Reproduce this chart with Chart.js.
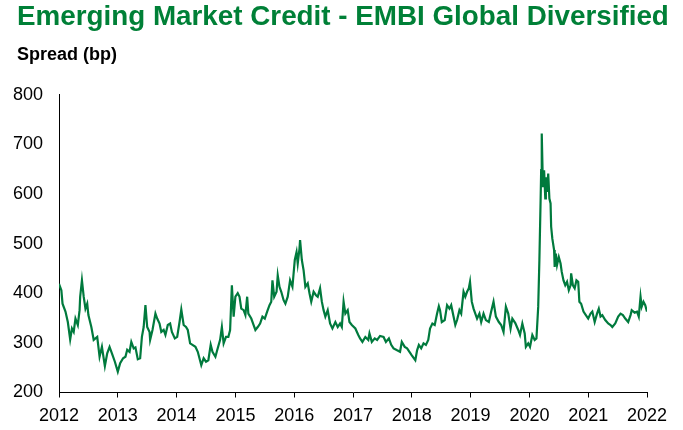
<!DOCTYPE html>
<html>
<head>
<meta charset="utf-8">
<script src="https://cdn.jsdelivr.net/npm/chart.js@4/dist/chart.umd.min.js"></script>
<style>
  html, body { margin: 0; padding: 0; background: #fff; }
  #chart { display: block; }
</style>
</head>
<body>
<canvas id="chart" width="683" height="430"></canvas>
<script>
// EMBI Global Diversified spread (decimal years)
const years = [
  2012.00, 2012.04, 2012.06, 2012.11, 2012.15, 2012.19, 2012.22, 2012.25, 2012.28, 2012.32,
  2012.35, 2012.36, 2012.39, 2012.42, 2012.45, 2012.48, 2012.50, 2012.55, 2012.59, 2012.65,
  2012.69, 2012.73, 2012.78, 2012.82, 2012.86, 2012.90, 2012.95, 2013.00, 2013.04, 2013.09,
  2013.13, 2013.16, 2013.20, 2013.23, 2013.27, 2013.30, 2013.34, 2013.38, 2013.41, 2013.44,
  2013.47, 2013.50, 2013.54, 2013.55, 2013.59, 2013.64, 2013.67, 2013.71, 2013.74, 2013.78,
  2013.81, 2013.85, 2013.89, 2013.92, 2013.97, 2014.01, 2014.05, 2014.08, 2014.12, 2014.16,
  2014.19, 2014.23, 2014.27, 2014.32, 2014.36, 2014.42, 2014.46, 2014.50, 2014.54, 2014.58,
  2014.61, 2014.66, 2014.69, 2014.74, 2014.77, 2014.80, 2014.84, 2014.88, 2014.91, 2014.94,
  2014.97, 2015.00, 2015.04, 2015.07, 2015.10, 2015.14, 2015.17, 2015.20, 2015.22, 2015.27,
  2015.31, 2015.34, 2015.38, 2015.42, 2015.46, 2015.50, 2015.54, 2015.58, 2015.61, 2015.63,
  2015.66, 2015.70, 2015.72, 2015.75, 2015.78, 2015.82, 2015.85, 2015.89, 2015.93, 2015.97,
  2016.01, 2016.04, 2016.06, 2016.09, 2016.10, 2016.13, 2016.16, 2016.19, 2016.23, 2016.26,
  2016.29, 2016.33, 2016.37, 2016.40, 2016.44, 2016.47, 2016.50, 2016.53, 2016.57, 2016.61,
  2016.65, 2016.70, 2016.74, 2016.78, 2016.81, 2016.84, 2016.87, 2016.91, 2016.94, 2016.98,
  2017.04, 2017.09, 2017.12, 2017.16, 2017.21, 2017.26, 2017.28, 2017.32, 2017.37, 2017.41,
  2017.46, 2017.52, 2017.56, 2017.61, 2017.65, 2017.69, 2017.75, 2017.80, 2017.83, 2017.88,
  2017.92, 2017.96, 2018.00, 2018.06, 2018.09, 2018.12, 2018.16, 2018.20, 2018.24, 2018.28,
  2018.31, 2018.35, 2018.39, 2018.43, 2018.46, 2018.48, 2018.51, 2018.56, 2018.60, 2018.64,
  2018.67, 2018.71, 2018.74, 2018.77, 2018.81, 2018.84, 2018.88, 2018.91, 2018.94, 2018.97,
  2018.99, 2019.02, 2019.05, 2019.08, 2019.11, 2019.15, 2019.18, 2019.22, 2019.26, 2019.31,
  2019.35, 2019.39, 2019.43, 2019.48, 2019.52, 2019.56, 2019.60, 2019.64, 2019.68, 2019.71,
  2019.76, 2019.81, 2019.84, 2019.88, 2019.92, 2019.94, 2019.98, 2020.01, 2020.05, 2020.09,
  2020.12, 2020.15, 2020.17, 2020.19, 2020.20, 2020.21, 2020.23, 2020.25, 2020.27, 2020.28,
  2020.30, 2020.32, 2020.34, 2020.36, 2020.37, 2020.39, 2020.42, 2020.43, 2020.45, 2020.47,
  2020.50, 2020.53, 2020.55, 2020.58, 2020.61, 2020.64, 2020.67, 2020.70, 2020.71, 2020.74,
  2020.77, 2020.80, 2020.83, 2020.85, 2020.88, 2020.92, 2020.96, 2021.00, 2021.04, 2021.07,
  2021.11, 2021.15, 2021.18, 2021.21, 2021.24, 2021.29, 2021.34, 2021.38, 2021.41, 2021.46,
  2021.51, 2021.55, 2021.59, 2021.63, 2021.68, 2021.72, 2021.74, 2021.79, 2021.83, 2021.86,
  2021.89, 2021.91, 2021.94, 2021.97, 2022.00
];
const spread = [
  419, 406, 379, 363, 342, 307, 329, 322, 349, 336,
  366, 393, 426, 393, 369, 379, 356, 332, 306, 312,
  272, 292, 253, 279, 292, 279, 262, 242, 259, 269,
  272, 286, 282, 302, 289, 291, 267, 269, 312, 332,
  376, 332, 322, 306, 326, 359, 349, 339, 322, 326,
  316, 336, 339, 322, 309, 312, 342, 367, 336, 332,
  326, 299, 296, 292, 282, 255, 269, 262, 265, 296,
  282, 272, 285, 306, 332, 299, 312, 312, 326, 416,
  353, 393, 400, 393, 369, 366, 356, 393, 359, 349,
  336, 326, 332, 339, 353, 349, 363, 376, 383, 426,
  393, 403, 436, 413, 403, 386, 379, 393, 426, 413,
  467, 483, 460, 490, 507, 467, 446, 413, 420, 400,
  383, 403, 396, 393, 410, 383, 366, 353, 366, 339,
  329, 342, 332, 339, 332, 383, 359, 366, 342, 336,
  329, 316, 309, 302, 312, 306, 319, 302, 309, 306,
  314, 312, 302, 309, 296, 289, 285, 282, 302, 292,
  289, 282, 275, 265, 285, 296, 289, 299, 296, 306,
  329, 339, 336, 359, 374, 366, 342, 346, 376, 369,
  376, 353, 336, 346, 366, 359, 403, 393, 403, 410,
  423, 383, 369, 359, 349, 359, 342, 359, 346, 342,
  363, 383, 353, 342, 336, 322, 373, 359, 329, 349,
  340, 326, 316, 339, 319, 292, 299, 292, 316, 306,
  309, 373, 467, 584, 648, 722, 614, 648, 591, 634,
  604, 641, 591, 581, 534, 510, 487, 453, 480, 457,
  473, 460, 443, 426, 416, 423, 406, 416, 440, 416,
  410, 426, 423, 383, 379, 363, 356, 349, 359, 363,
  342, 359, 369, 353, 356, 346, 339, 336, 332, 339,
  353, 359, 356, 349, 342, 356, 366, 361, 363, 353,
  393, 373, 383, 376, 363
];
const yearTicks = [2012, 2013, 2014, 2015, 2016, 2017, 2018, 2019, 2020, 2021, 2022];

const green = '#007A3D';
const tickFont = { family: "'Liberation Sans', Arial, sans-serif", size: 18 };

// title and subtitle start 17px in from the left, the axes keep the full width
const titleIndent = {
  id: 'titleIndent',
  afterLayout(chart) {
    chart.boxes.forEach(b => {
      if (b.options && typeof b.options.text === 'string') b.left = 17;
    });
  }
};

new Chart(document.getElementById('chart'), {
  type: 'line',
  data: {
    datasets: [{
      label: 'Spread',
      data: years.map((x, i) => ({ x: x, y: spread[i] })),
      borderColor: green,
      borderWidth: 2.2,
      pointRadius: 0,
      tension: 0,
      fill: false
    }]
  },
  options: {
    responsive: false,
    animation: false,
    devicePixelRatio: 1,
    layout: { padding: { left: 0, right: 0, top: 0, bottom: 0 } },
    plugins: {
      legend: { display: false },
      tooltip: { enabled: false },
      title: {
        display: true,
        text: 'Emerging Market Credit - EMBI Global Diversified',
        align: 'start',
        color: '#008037',
        font: { family: "'Liberation Sans', Arial, sans-serif", size: 27.8, weight: 'bold' },
        padding: { top: 1, bottom: 4 }
      },
      subtitle: {
        display: true,
        text: 'Spread (bp)',
        align: 'start',
        color: '#000',
        font: { family: "'Liberation Sans', Arial, sans-serif", size: 18, weight: 'bold' },
        padding: { top: 6, bottom: 28.8 }
      }
    },
    scales: {
      x: {
        type: 'linear',
        min: 2012,
        max: 2022,
        afterBuildTicks: s => { s.ticks = yearTicks.map(v => ({ value: v })); },
        afterFit: s => { s.height = 37.5; },
        ticks: {
          color: '#000',
          font: tickFont,
          padding: 8,
          maxRotation: 0,
          callback: v => String(v)
        },
        grid: { drawOnChartArea: false, drawTicks: true, tickLength: 5, color: '#000', lineWidth: 1 },
        border: { display: true, color: '#000', width: 1 }
      },
      y: {
        min: 200,
        max: 800,
        afterFit: s => { s.width = 59; },
        ticks: { stepSize: 100, color: '#000', font: tickFont, padding: 16 },
        grid: { display: false, drawTicks: false },
        border: { display: true, color: '#000', width: 1 }
      },
      // empty right-hand axis only to keep the plot clear of the right edge
      yRight: {
        position: 'right',
        min: 200,
        max: 800,
        afterFit: s => { s.width = 36; },
        ticks: { display: false },
        grid: { display: false, drawTicks: false },
        border: { display: false }
      }
    }
  },
  plugins: [titleIndent]
});
</script>
</body>
</html>
